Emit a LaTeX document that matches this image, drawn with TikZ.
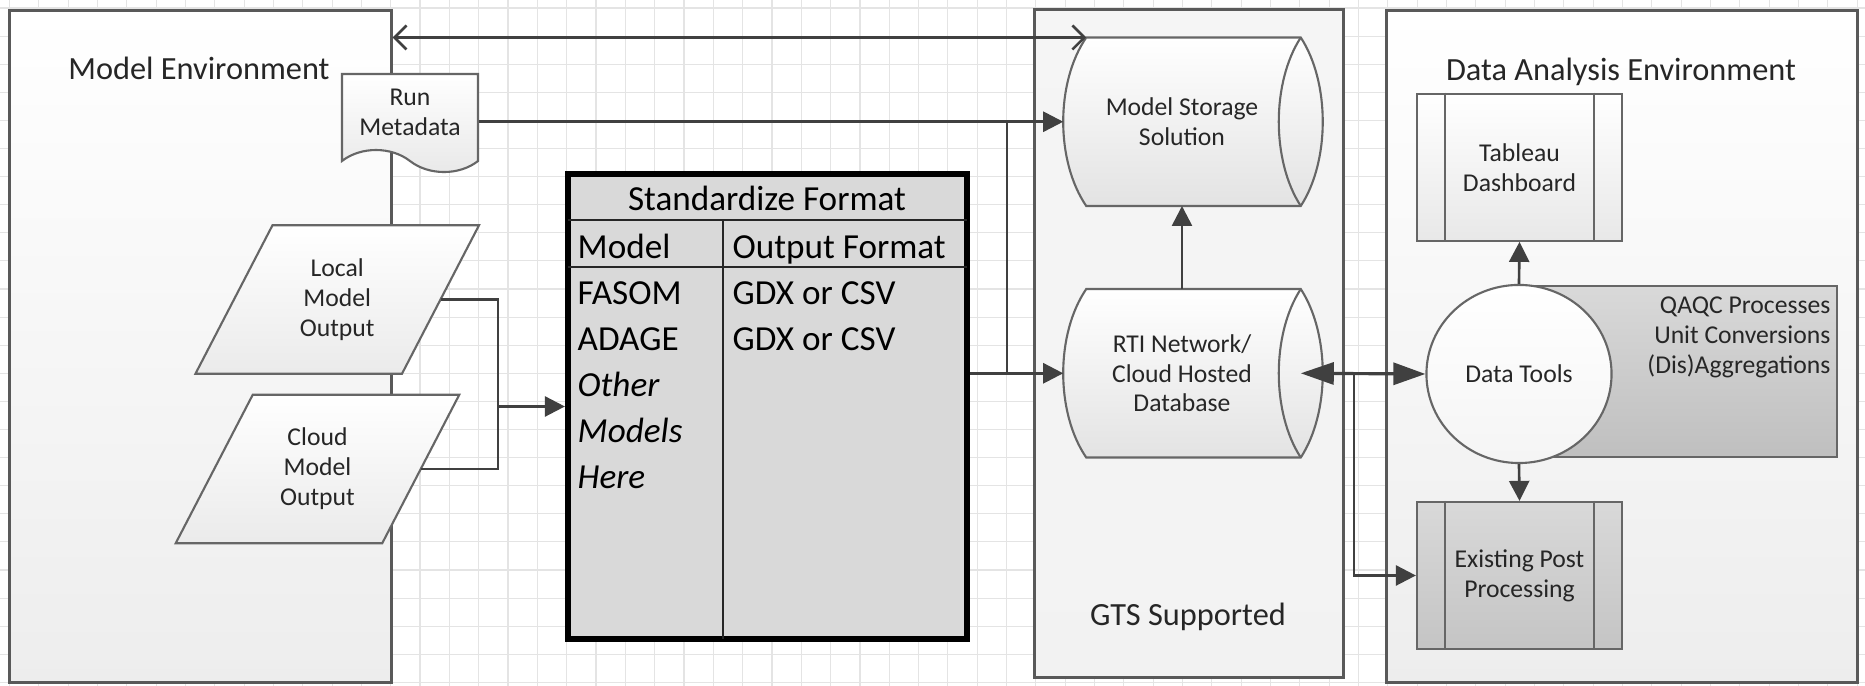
\documentclass[tikz,border=0pt]{standalone}
\usepackage{fontspec}
\setmainfont{Carlito}
\usetikzlibrary{arrows.meta,shapes.geometric,shapes.symbols}
\pgfdeclarelayer{grid}
\pgfdeclarelayer{boxes}
\pgfdeclarelayer{shapes}
\pgfsetlayers{grid,boxes,shapes,main}

\definecolor{linegray}{HTML}{404040}
\definecolor{boxline}{HTML}{595959}
\definecolor{shapeline}{HTML}{666666}
\definecolor{gridgray}{HTML}{E4E4E4}
\definecolor{tablegray}{HTML}{D9D9D9}
\definecolor{textgray}{HTML}{262626}

\newcommand{\titlefont}{\fontsize{9.2}{11}\selectfont}
\newcommand{\smallfont}{\fontsize{7.3}{8.5}\selectfont}
\newcommand{\tablefont}{\fontsize{10}{13}\selectfont}

\begin{document}
\begin{tikzpicture}[x=0.01cm, y=-0.01cm,
  envbox/.style = {draw=boxline, line width=0.85pt, top color=white, bottom color=black!7, inner sep=0pt},
  envtitle/.style = {font=\titlefont, text=textgray, inner sep=0pt, anchor=base},
  shapetext/.style = {font=\smallfont, text=textgray, align=center, inner sep=0pt},
  para/.style = {shapetext, minimum width=2.05cm, minimum height=1.47cm},
  cyl/.style = {shapetext, minimum width=2.36cm, minimum height=1.67cm},
  subproc/.style = {shapetext, draw=shapeline, line width=0.6pt, minimum width=2.05cm, minimum height=1.47cm},
  outline/.style = {draw=shapeline, line width=0.6pt},
  cell/.style = {font=\tablefont, inner sep=0pt, anchor=base west},
  conn/.style = {draw=linegray, line width=0.75pt},
  arr/.style = {conn, -{Triangle[length=0.2cm,width=0.2cm]}},
  bigarr/.style = {conn, line width=0.9pt, {Triangle[length=0.33cm,width=0.22cm]}-{Triangle[length=0.32cm,width=0.22cm]}},
  openarr/.style = {conn, {Straight Barb[length=0.12cm,width=0.24cm]}-{Straight Barb[length=0.12cm,width=0.24cm]}}
]
\useasboundingbox (0,0) rectangle (1865,686);

% background grid
\begin{pgfonlayer}{grid}
  \fill[white] (0,0) rectangle (1865,686);
  \foreach \i in {0,...,63}
    \draw[gridgray, line width=0.3pt] ({9.4+29.33*\i},0) -- ++(0,686);
  \foreach \j in {0,...,24}
    \draw[gridgray, line width=0.3pt] (0,{8+28.1*\j}) -- ++(1865,0);
\end{pgfonlayer}

% environments
\begin{pgfonlayer}{boxes}
  \node[envbox, minimum width=3.81cm, minimum height=6.71cm] (menv) at (200.5,346.4) {};
  \node[envbox, top color=black!4, bottom color=black!5, minimum width=3.08cm, minimum height=6.68cm] (gts) at (1189,343.8) {};
  \node[envbox, minimum width=4.70cm, minimum height=6.71cm] (dae) at (1622,346.5) {};
\end{pgfonlayer}
\node[envtitle] at (199,80) {Model Environment};
\node[envtitle] at (1188,625.5) {GTS Supported};
\node[envtitle] at (1621,81) {Data Analysis Environment};

% model environment
\node[shapetext, tape, tape bend top=none, tape bend bottom=out and in, tape bend height=0.22cm,
  draw=shapeline, line width=0.6pt, top color=white, bottom color=black!9,
  minimum width=1.36cm, minimum height=0.98cm] (meta) at (410,112) {Run\\Metadata};
\node[para] (local) at (337.25,299.5) {Local\\Model\\Output};
\node[para] (cloud) at (317.5,469) {Cloud\\Model\\Output};

% standardize table
\node[draw=black, line width=1.7pt, fill=tablegray, minimum width=3.99cm, minimum height=4.65cm] (std) at (767.5,406.5) {};
\draw[black!85, line width=0.45pt] (568,220) -- (967,220);
\draw[black!85, line width=0.7pt] (568,267) -- (967,267);
\draw[black!85, line width=0.45pt] (723,220) -- (723,639);
\node[font=\tablefont, inner sep=0pt, anchor=base] at (767,211) {Standardize Format};
\node[cell] at (577,259) {Model};
\node[cell] at (732,259) {Output Format};
\node[cell] at (577,304.5) {FASOM};
\node[cell] at (732,304.5) {GDX or CSV};
\node[cell] at (577,350.5) {ADAGE};
\node[cell] at (732,350.5) {GDX or CSV};
\node[cell] at (577,396.5) {\itshape Other};
\node[cell] at (577,442.5) {\itshape Models};
\node[cell] at (577,488.5) {\itshape Here};

% storage
\node[cyl] (mss) at (1182,121.75) {Model Storage\\Solution};
\node[cyl] (rti) at (1182,373.3) {RTI Network/\\Cloud Hosted\\Database};

% data analysis
\node[subproc, top color=white, bottom color=black!9] (tab) at (1519.5,167.3) {Tableau\\Dashboard};
\node[subproc, top color=black!15, bottom color=black!23] (epp) at (1519.5,575.5) {Existing Post\\Processing};
\node[draw=shapeline, line width=0.6pt, top color=black!15, bottom color=black!25,
  minimum width=3.18cm, minimum height=1.705cm] (qaqc) at (1678,371.75) {};
\node[shapetext, align=right, anchor=north east] at ([xshift=-0.07cm,yshift=-0.112cm]qaqc.north east)
  {QAQC Processes\\Unit Conversions\\(Dis)Aggregations};
\node[shapetext, ellipse, draw=shapeline, line width=0.6pt, top color=white, bottom color=black!4,
  minimum width=1.85cm, minimum height=1.78cm] (dt) at (1519,374) {Data Tools};
\foreach \sp in {tab,epp} {
  \draw[outline] ([xshift=0.29cm]\sp.north west) -- ([xshift=0.29cm]\sp.south west);
  \draw[outline] ([xshift=-0.29cm]\sp.north east) -- ([xshift=-0.29cm]\sp.south east);
}

% shape outlines under the texts
\begin{pgfonlayer}{shapes}
  \foreach \pn in {local,cloud}
    \draw[outline, top color=white, bottom color=black!8]
      ([xshift=0.385cm]\pn.north west) -- ([xshift=0.385cm]\pn.north east)
      -- ([xshift=-0.385cm]\pn.south east) -- ([xshift=-0.385cm]\pn.south west) -- cycle;
  \foreach \cy in {mss,rti} {
    \draw[outline, top color=white, bottom color=black!11]
      ([xshift=0.23cm]\cy.north west) -- (\cy.north east)
      .. controls ([xshift=0.293cm,yshift=-0.45cm]\cy.north east) and ([xshift=0.293cm,yshift=0.45cm]\cy.south east) .. (\cy.south east)
      -- ([xshift=0.23cm]\cy.south west)
      .. controls ([xshift=-0.077cm,yshift=0.45cm]\cy.south west) and ([xshift=-0.077cm,yshift=-0.45cm]\cy.north west) .. ([xshift=0.23cm]\cy.north west)
      -- cycle;
    \draw[outline] (\cy.north east)
      .. controls ([xshift=-0.293cm,yshift=-0.45cm]\cy.north east) and ([xshift=-0.293cm,yshift=0.45cm]\cy.south east) .. (\cy.south east);
  }
\end{pgfonlayer}

% connectors
\coordinate (merge) at (498,0);
\coordinate (split) at (1007,0);
\coordinate (fork) at (1354,0);
\draw[openarr] (menv.east |- mss.north) -- ([xshift=0.23cm]mss.north west);
\draw[arr] (meta.east |- mss.west) -- (mss.west);
\draw[conn] (local.east) -| (merge |- cloud.east) -- (cloud.east);
\draw[arr] (merge |- std.west) -- (std.west);
\draw[conn] (split |- mss.west) -- (split |- rti.west);
\draw[arr] (std.east |- rti.west) -- (rti.west);
\draw[arr] (rti.north) -- (mss.south);
\draw[bigarr] (rti.east) -- (dt.west);
\draw[arr] (fork |- rti.east) |- (epp.west);
\draw[arr] (dt.north) -- (tab.south);
\draw[arr] (dt.south) -- (epp.north);
\end{tikzpicture}
\end{document}
